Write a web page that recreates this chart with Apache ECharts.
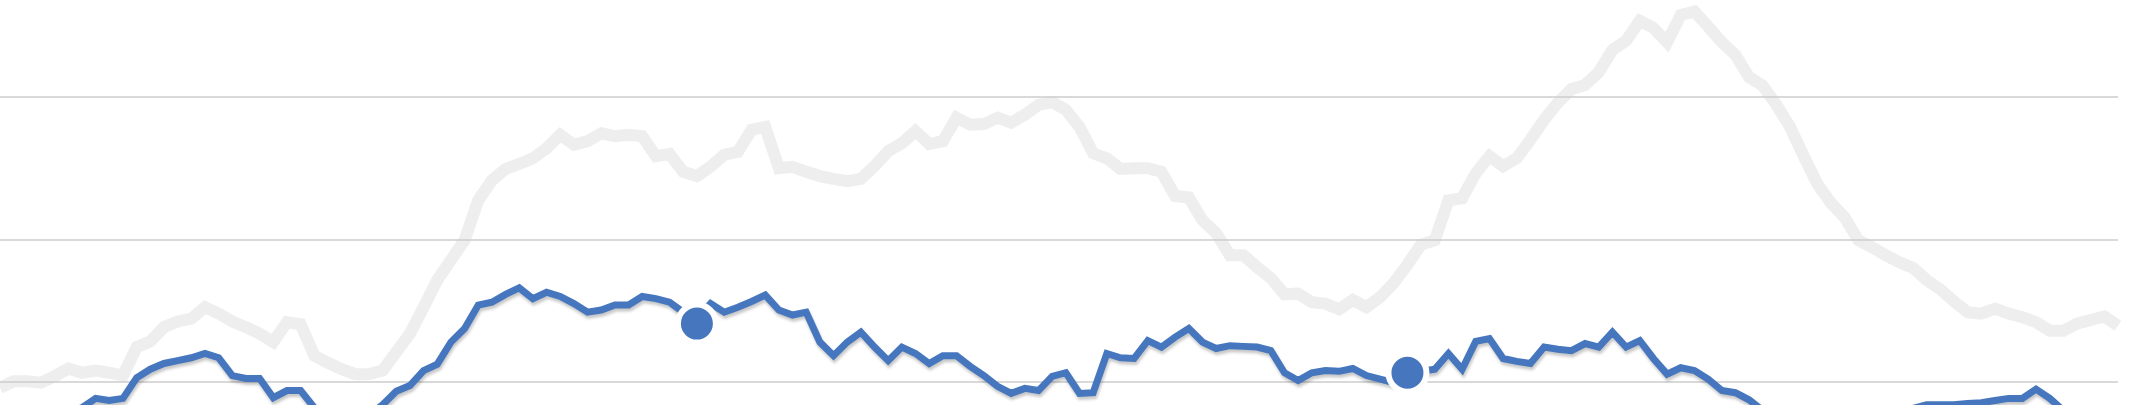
<!DOCTYPE html>
<html>
<head>
<meta charset="utf-8">
<script src="https://cdn.jsdelivr.net/npm/echarts@6/dist/echarts.min.js"></script>
<style>
  html, body { margin: 0; padding: 0; background: #fff; }
  #chart { width: 2140px; height: 405px; }
</style>
</head>
<body>
<div id="chart"></div>
<script>
// 灰色背景线
var grayValues = [
  19.2, 20.1, 20.1, 19.9, 20.8, 21.9, 21.3, 21.6, 21.3, 20.9,
  24.9, 25.7, 27.7, 28.5, 28.9, 30.5, 29.6, 28.5, 27.7, 26.8,
  25.6, 28.4, 28.1, 23.7, 22.7, 21.8, 21.1, 21.1, 21.6, 24.2,
  26.8, 30.5, 34.3, 37.1, 39.9, 45.5, 48.3, 49.9, 50.6, 51.4,
  52.8, 54.7, 53.3, 53.8, 54.9, 54.5, 54.7, 54.5, 51.7, 52.0,
  49.5, 48.9, 50.2, 51.9, 52.3, 55.4, 55.8, 50.0, 50.2, 49.5,
  48.9, 48.5, 48.2, 48.5, 50.3, 52.4, 53.5, 55.2, 53.4, 53.8,
  57.1, 56.1, 56.2, 57.1, 56.4, 57.5, 58.9, 59.3, 58.2, 55.8,
  52.1, 51.4, 49.9, 50.0, 50.0, 49.5, 46.1, 45.9, 42.7, 40.9,
  37.8, 37.8, 36.1, 34.6, 32.3, 32.4, 31.2, 31.0, 30.2, 31.5,
  30.5, 31.9, 33.9, 36.5, 39.3, 39.9, 45.5, 45.8, 49.3, 51.7,
  50.3, 51.4, 54.0, 56.8, 59.2, 61.1, 61.7, 63.5, 66.6, 67.9,
  70.7, 69.7, 67.7, 71.5, 72.0, 69.9, 67.7, 65.9, 62.8, 61.6,
  58.9, 55.8, 51.7, 47.8, 45.1, 43.1, 39.9, 38.9, 37.8, 36.8,
  36.0, 34.3, 33.0, 31.3, 29.8, 29.6, 30.3, 29.6, 29.1, 28.4,
  27.2, 27.2, 28.2, 28.7, 29.2, 27.9
]
// 蓝色主线
var blueValues = [
  13.2, 13.9, 14.6, 14.9, 15.3, 15.7, 16.4, 17.7, 17.4, 17.7,
  20.6, 21.8, 22.6, 23.0, 23.4, 24.0, 23.4, 20.9, 20.5, 20.5,
  17.8, 18.8, 18.8, 16.4, 14.6, 13.5, 13.9, 15.3, 16.8, 18.7,
  19.5, 21.6, 22.5, 25.6, 27.5, 30.8, 31.2, 32.3, 33.2, 31.7,
  32.6, 32.0, 31.0, 29.8, 30.1, 30.8, 30.8, 32.0, 31.7, 31.2,
  29.8, 28.9, 31.0, 29.8, 30.5, 31.3, 32.2, 30.1, 29.4, 29.8,
  25.6, 23.7, 25.6, 27.0, 24.9, 23.0, 24.9, 24.0, 22.6, 23.7,
  23.7, 22.2, 20.9, 19.4, 18.4, 19.1, 18.8, 20.8, 21.3, 18.4,
  18.5, 24.0, 23.4, 23.3, 25.8, 24.9, 26.3, 27.5, 25.6, 24.7,
  25.1, 25.0, 24.9, 24.4, 21.3, 20.2, 21.3, 21.6, 21.5, 21.9,
  20.9, 20.4, 19.9, 20.2, 21.5, 21.8, 24.0, 21.8, 25.7, 26.1,
  23.3, 22.9, 22.6, 24.9, 24.6, 24.4, 25.4, 24.9, 27.0, 24.9,
  25.8, 23.3, 21.1, 22.0, 21.6, 20.4, 18.8, 18.5, 17.5, 16.0,
  14.9, 13.9, 13.2, 12.9, 13.2, 13.5, 13.9, 14.6, 15.2, 15.7,
  16.3, 16.8, 16.8, 16.8, 17.0, 17.1, 17.4, 17.7, 17.7, 19.0,
  17.7, 16.0, 15.3, 14.6, 14.3, 13.9
]
// 圆点标记
var dotIndex = [51, 103]
var dotValue = [28.2, 21.3]
// y轴刻度
var yMin = 20
var yMax = 60
var yStep = 20

var categories = grayValues.map(function (v, i) { return String(i + 1) })
var dots = dotIndex.map(function (idx, i) { return [idx, dotValue[i]] })

var myChart = echarts.init(document.getElementById('chart'))
var option = {
  animation: false,
  grid: {
    left: 0,
    right: 22,
    top: 97,
    bottom: 23
  },
  xAxis: {
    type: 'category',
    data: categories,
    boundaryGap: false,
    axisLine: { show: false },
    axisTick: { show: false },
    axisLabel: { show: false },
    splitLine: { show: false }
  },
  yAxis: {
    type: 'value',
    min: yMin,
    max: yMax,
    interval: yStep,
    axisLine: { show: false },
    axisTick: { show: false },
    axisLabel: { show: false },
    splitLine: {
      lineStyle: {
        color: '#d9d9d9',
        width: 2
      }
    }
  },
  series: [
    {
      type: 'line',
      data: grayValues,
      showSymbol: false,
      clip: false,
      z: 2,
      lineStyle: {
        color: 'rgba(205,205,205,0.35)',
        width: 12,
        join: 'miter'
      }
    },
    {
      type: 'line',
      data: blueValues,
      showSymbol: false,
      clip: false,
      z: 3,
      lineStyle: {
        color: '#4677be',
        width: 7,
        join: 'miter',
        shadowColor: 'rgba(0,0,0,0.22)',
        shadowBlur: 3,
        shadowOffsetX: 1,
        shadowOffsetY: 3
      }
    },
    {
      type: 'scatter',
      data: dots,
      symbol: 'circle',
      symbolSize: 38,
      clip: false,
      z: 5,
      itemStyle: {
        color: '#4677be',
        opacity: 1,
        borderColor: '#ffffff',
        borderWidth: 6
      }
    }
  ]
}
myChart.setOption(option)
</script>
</body>
</html>
